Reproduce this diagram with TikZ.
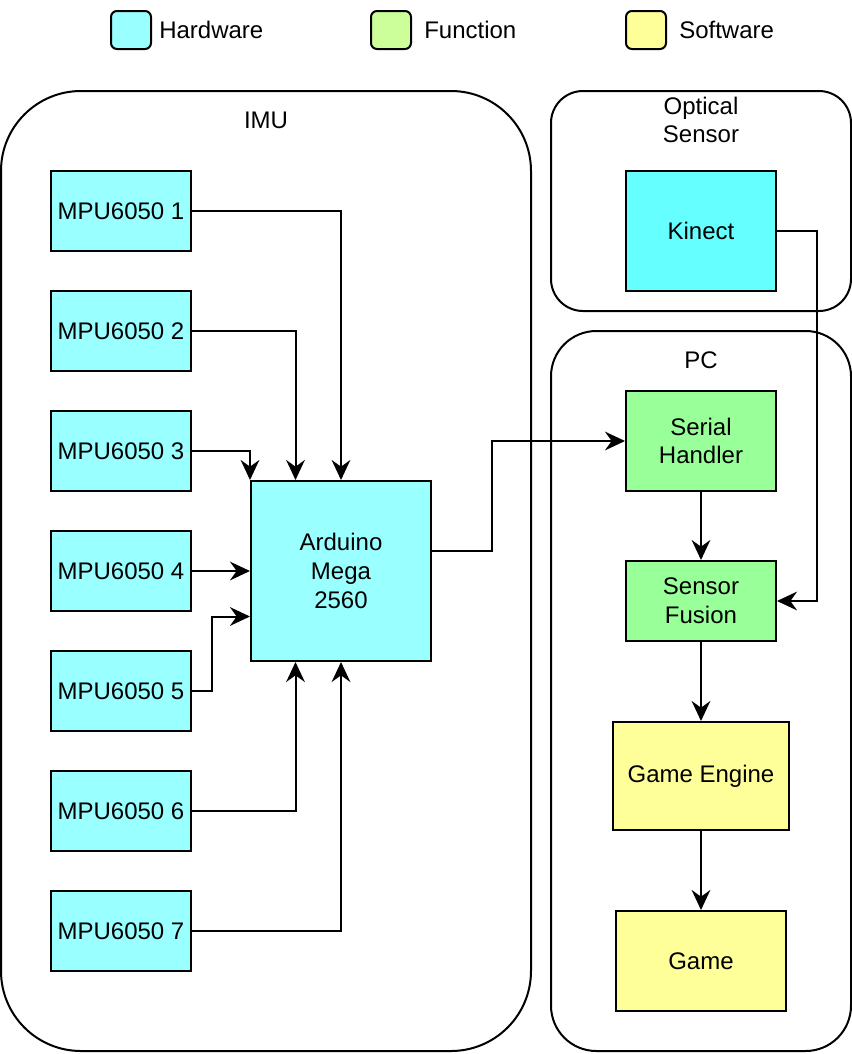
\documentclass[tikz,border=0pt]{standalone}
\usepackage{fontspec}
\setmainfont{Liberation Sans}
\usetikzlibrary{arrows.meta,calc}
\definecolor{hwcol}{HTML}{99FFFF}
\definecolor{kincol}{HTML}{66FFFF}
\definecolor{fncol}{HTML}{CCFF99}
\definecolor{fnbox}{HTML}{99FF99}
\definecolor{swcol}{HTML}{FFFF99}
\begin{document}
\begin{tikzpicture}[x=0.75pt,y=0.75pt,yscale=-1,
		every node/.style={font=\fontsize{18}{21.6}\selectfont, align=center},
		blk/.style={draw, line width=1.5pt, inner sep=0pt},
		mpu/.style={blk, fill=hwcol, minimum width=105pt, minimum height=60pt},
		legbox/.style={draw, line width=1.5pt, rounded corners=4.5pt, minimum width=30pt, minimum height=28.5pt},
		link/.style={line width=1.5pt, -{Stealth[length=15pt,width=14pt,inset=5pt]}}]
		\useasboundingbox (0,0) rectangle (852,1054);

		% legend
		\draw (131,30) node [legbox, fill=hwcol] (lhw) {};
		\draw (391,30) node [legbox, fill=fncol] (lfn) {};
		\draw (646,30) node [legbox, fill=swcol] (lsw) {};
		\draw (159,30) node [anchor=west, inner sep=0pt] (thw) {Hardware};
		\draw (424,30) node [anchor=west, inner sep=0pt] (tfn) {Function};
		\draw (679,30) node [anchor=west, inner sep=0pt] (tsw) {Software};

		% groups
		\draw [line width=1.5pt, rounded corners=60pt] (1,91) rectangle (531,1051);
		\draw [line width=1.5pt, rounded corners=24pt] (551,91) rectangle (851,311);
		\draw [line width=1.5pt, rounded corners=34pt] (551,331) rectangle (851,1051);
		\draw (266,120) node (timu) {IMU};
		\draw (701,120) node (topt) {Optical\\Sensor};
		\draw (701,360) node (tpc) {PC};

		% imu side
		\foreach \i in {1,...,7}
			\draw (121,91+120*\i) node [mpu] (m\i) {MPU6050 \i};
		\draw (341,571) node [blk, fill=hwcol, minimum width=135pt, minimum height=135pt] (ard) {Arduino\\Mega\\2560};

		% pc side
		\draw (701,231) node [blk, fill=kincol, minimum width=112.5pt, minimum height=90pt] (kin) {Kinect};
		\draw (701,441) node [blk, fill=fnbox, minimum width=112.5pt, minimum height=75pt] (ser) {Serial\\Handler};
		\draw (701,601) node [blk, fill=fnbox, minimum width=112.5pt, minimum height=60pt] (fus) {Sensor\\Fusion};
		\draw (701,776) node [blk, fill=swcol, minimum width=132pt, minimum height=81pt] (eng) {Game Engine};
		\draw (701,961) node [blk, fill=swcol, minimum width=127.5pt, minimum height=75pt] (game) {Game};

		% links
		\draw [link] (m1.east) -| (ard.north);
		\draw [link] (m2.east) -| ($(ard.north)!0.5!(ard.north west)$);
		\draw [link] (m3.east) -| (ard.north west);
		\draw [link] (m4.east) -- (ard.west);
		\draw [link] (m5.east) -- ++(20,0) |- ($(ard.west)!0.5!(ard.south west)$);
		\draw [link] (m6.east) -| ($(ard.south)!0.5!(ard.south west)$);
		\draw [link] (m7.east) -| (ard.south);
		\draw [link] ([yshift=-15pt]ard.east) -- ++(60,0) |- (ser.west);
		\draw [link] (kin.east) -- ++(40,0) |- (fus.east);
		\draw [link] (ser) -- (fus);
		\draw [link] (fus) -- (eng);
		\draw [link] (eng) -- (game);
\end{tikzpicture}
\end{document}
